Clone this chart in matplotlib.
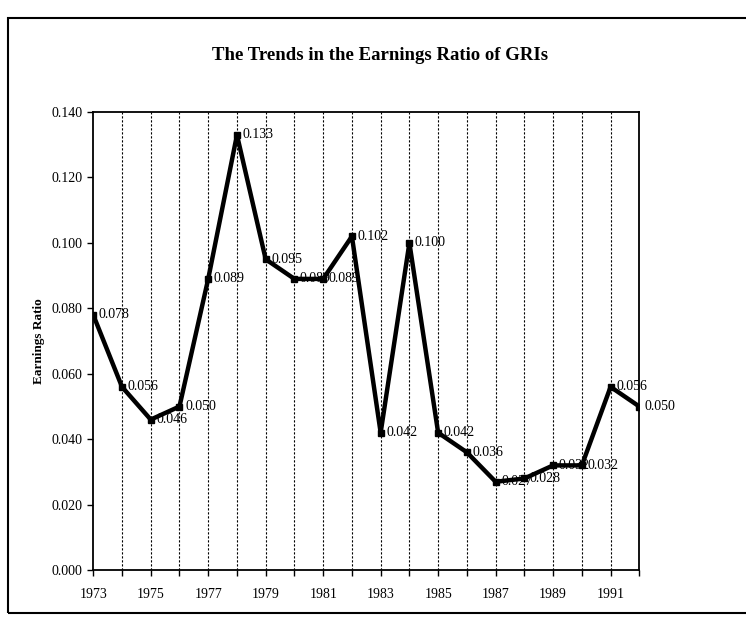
import matplotlib.pyplot as plt
from matplotlib.patches import Rectangle

years = list(range(1973, 1993))
ratio = [0.078, 0.056, 0.046, 0.050, 0.089, 0.133, 0.095, 0.089, 0.089, 0.102,
         0.042, 0.100, 0.042, 0.036, 0.027, 0.028, 0.032, 0.032, 0.056, 0.050]
point_labels = ["0.078", "0.056", "0.046", "0.050", "0.089", "0.133", "0.095", "0.089",
                "0.089", "0.102", "0.042", "0.100", "0.042", "0.036", "0.027", "0.028",
                "0.032", "0.032", "0.056", "0.050"]
y_ticks = [0.000, 0.020, 0.040, 0.060, 0.080, 0.100, 0.120, 0.140]
x_ticks = list(range(1973, 1992, 2))

plt.rcParams['font.family'] = ['Liberation Serif', 'DejaVu Serif']

fig = plt.figure(figsize=(7.46, 6.19), dpi=100)
ax = fig.add_axes([0.125, 0.079, 0.732, 0.740])

# vertical dashed lines at every year
for yr in years[1:-1]:
    ax.axvline(yr, color='black', linestyle=(0, (2, 1.6)), linewidth=0.8, zorder=1)

ax.plot(years, ratio, color='black', linewidth=3.2, marker='s', markersize=4,
        zorder=3)

for yr, v, lab in zip(years, ratio, point_labels):
    ax.annotate(lab, (yr, v), xytext=(4, 0), textcoords='offset points',
                ha='left', va='center', fontsize=10, zorder=4)

ax.set_xlim(1973, 1992)
ax.set_ylim(0, 0.140)
ax.set_yticks(y_ticks)
ax.set_yticklabels([f"{t:.3f}" for t in y_ticks], fontsize=10)
ax.set_xticks(years, minor=True)
ax.set_xticks(x_ticks)
ax.set_xticklabels([str(x) for x in x_ticks], fontsize=10)
ax.tick_params(axis='both', direction='out', length=4, width=1, color='black')
ax.tick_params(axis='x', which='minor', length=4, width=1)
ax.tick_params(axis='x', pad=9)

for s in ax.spines.values():
    s.set_linewidth(1.3)
    s.set_color('black')

ax.set_ylabel('Earnings Ratio', fontsize=9.5, fontweight='bold', labelpad=5)

fig.text(0.51, 0.911, 'The Trends in the Earnings Ratio of GRIs', ha='center',
         va='center', fontsize=13.5, fontweight='bold')

# outer frame around the chart
fig.patches.append(Rectangle((0.011, 0.01), 1.0, 0.961, transform=fig.transFigure,
                             fill=False, edgecolor='black', linewidth=1.5))

fig.savefig('out.png', dpi=100)
